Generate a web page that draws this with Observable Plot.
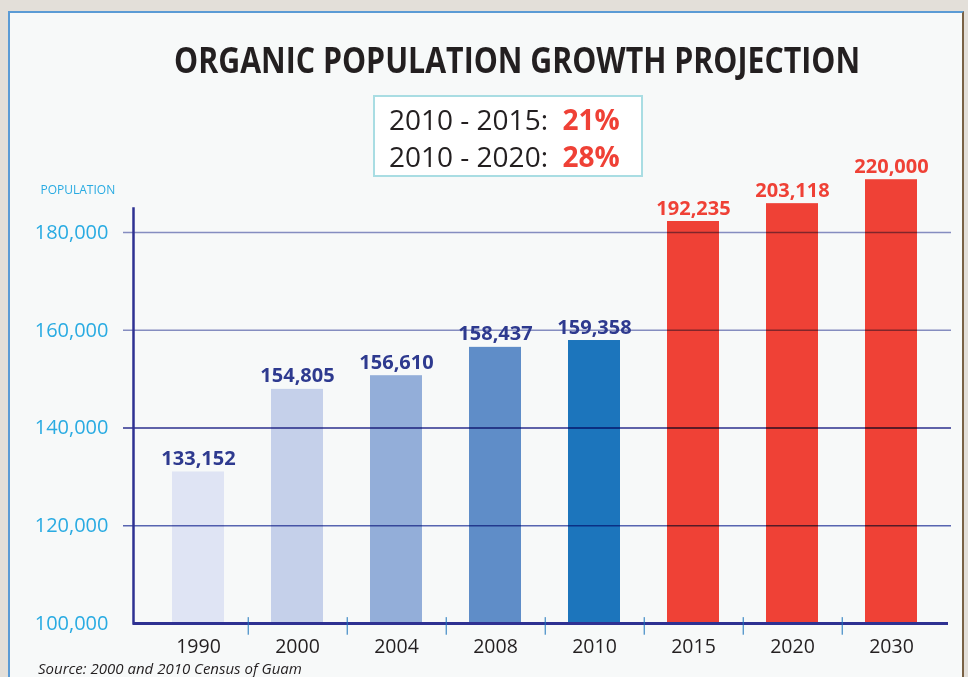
<!DOCTYPE html>
<html>
<head>
<meta charset="utf-8">
<script src="https://cdn.jsdelivr.net/npm/d3@7"></script>
<script src="https://cdn.jsdelivr.net/npm/@observablehq/plot@0.6"></script>
<style>
  html, body { margin: 0; padding: 0; }
  body { width: 968px; height: 677px; background: #e3dfd9; position: relative; overflow: hidden; font-family: "Open Sans", sans-serif; }
  #frame { position: absolute; left: 8px; top: 11px; width: 952px; height: 700px; background: #f7f9f9;
           border-left: 2px solid #5b9bd5; border-top: 2px solid #5b9bd5; border-right: 2px solid #7a6245; }
  #title { position: absolute; left: 0; top: 36px; width: 1034px; text-align: center; white-space: nowrap; }
  #title span { display: inline-block; font-weight: 700; font-size: 35px; color: #231f20; transform-origin: center; }
  #box { position: absolute; left: 373px; top: 95px; width: 266px; height: 78px; background: #ffffff;
         border: 2px solid #a9dde3; }
  #box div { position: absolute; left: 14px; font-size: 28px; color: #231f20; white-space: nowrap; }
  #box b { color: #ef4136; font-weight: 700; }
  #chart { position: absolute; left: 0; top: 150px; }
  #source { position: absolute; left: 38px; top: 661px; font-size: 15px; line-height: 15px; font-style: italic; color: #231f20; white-space: nowrap; }
</style>
</head>
<body>
<div id="frame"></div>
<div id="title"><span id="titleText">ORGANIC POPULATION GROWTH PROJECTION</span></div>
<div id="box">
  <div id="line1" style="top: 3px;"></div>
  <div id="line2" style="top: 40px;"></div>
</div>
<div id="chart"></div>
<div id="source">Source: 2000 and 2010 Census of Guam</div>
<script>
// ---- data ----
const categories = ["1990", "2000", "2004", "2008", "2010", "2015", "2020", "2030"];
const barHeights = [131000, 147900, 150700, 156500, 157900, 182250, 185900, 190800];
const valueLabels = ["133,152", "154,805", "156,610", "158,437", "159,358", "192,235", "203,118", "220,000"];
const barColors = ["#dfe4f4", "#c5d0ea", "#93aed9", "#5f8dc8", "#1c75bc", "#ef4136", "#ef4136", "#ef4136"];
const labelColors = ["#2e3a8f", "#2e3a8f", "#2e3a8f", "#2e3a8f", "#2e3a8f", "#ef4136", "#ef4136", "#ef4136"];
const yTicks = [100000, 120000, 140000, 160000, 180000];
const gridTicks = [120000, 140000, 160000, 180000];
const gridColors = ["#5b67b5", "#2e3192", "#8990c5", "#8990c5"];
const growthPeriods = ["2010 - 2015:", "2010 - 2020:"];
const growthRates = ["21%", "28%"];

document.getElementById("line1").innerHTML = growthPeriods[0] + "&nbsp;&nbsp;<b>" + growthRates[0] + "</b>";
document.getElementById("line2").innerHTML = growthPeriods[1] + "&nbsp;&nbsp;<b>" + growthRates[1] + "</b>";

const data = categories.map((c, i) => ({year: c, height: barHeights[i], label: valueLabels[i], fill: barColors[i], labelColor: labelColors[i]}));
const grid = gridTicks.map((v, i) => ({v, c: gridColors[i]}));

const xRange = [133, 955];
const pIn = 0.477, pOut = 0.372;
const step = (xRange[1] - xRange[0]) / (categories.length - pIn + 2 * pOut);
const navy = "#2e3192";

const chart = Plot.plot({
  width: 968,
  height: 527,
  marginLeft: 133,
  marginRight: 17,
  marginTop: 58,
  marginBottom: 54,
  style: {background: "transparent", fontFamily: "Open Sans, sans-serif", overflow: "visible"},
  x: {domain: categories, range: xRange, paddingInner: pIn, paddingOuter: pOut},
  y: {domain: [100000, 180000], range: [473, 82]},
  color: {type: "identity"},
  marks: [
    Plot.barY(data, {x: "year", y1: 100000, y2: "height", fill: "fill"}),
    Plot.ruleY(grid, {y: "v", stroke: "c", strokeWidth: 1.5, insetLeft: -10, mixBlendMode: "multiply"}),
    Plot.frame({anchor: "left", stroke: navy, strokeWidth: 2.5}),
    Plot.ruleY([100000], {stroke: navy, strokeWidth: 3, insetRight: 3}),
    Plot.ruleX(categories.slice(0, -1), {x: d => d, dx: step / 2, y1: 101200, y2: 97600, stroke: "#1c75bc", strokeWidth: 1}),
    Plot.axisY(yTicks, {tickSize: 0, tickPadding: 25, fontSize: 20, fill: "#29abe2", tickFormat: d3.format(","), label: null}),
    Plot.axisX({tickSize: 0, tickPadding: 16, fontSize: 19.5, fill: "#231f20", label: null}),
    Plot.text(data, {x: "year", y: "height", text: "label", fill: "labelColor", dy: -7, lineAnchor: "bottom", fontSize: 20, fontWeight: "bold"}),
    Plot.text(["POPULATION"], {frameAnchor: "top-left", dx: -93, dy: -23, textAnchor: "start", fill: "#29abe2", fontSize: 12})
  ]
});
document.getElementById("chart").appendChild(chart);

// fit title width to reference look (condensed face)
const t = document.getElementById("titleText");
const w = t.getBoundingClientRect().width;
t.style.transform = "scaleX(" + (686 / w) + ")";
</script>
</body>
</html>
